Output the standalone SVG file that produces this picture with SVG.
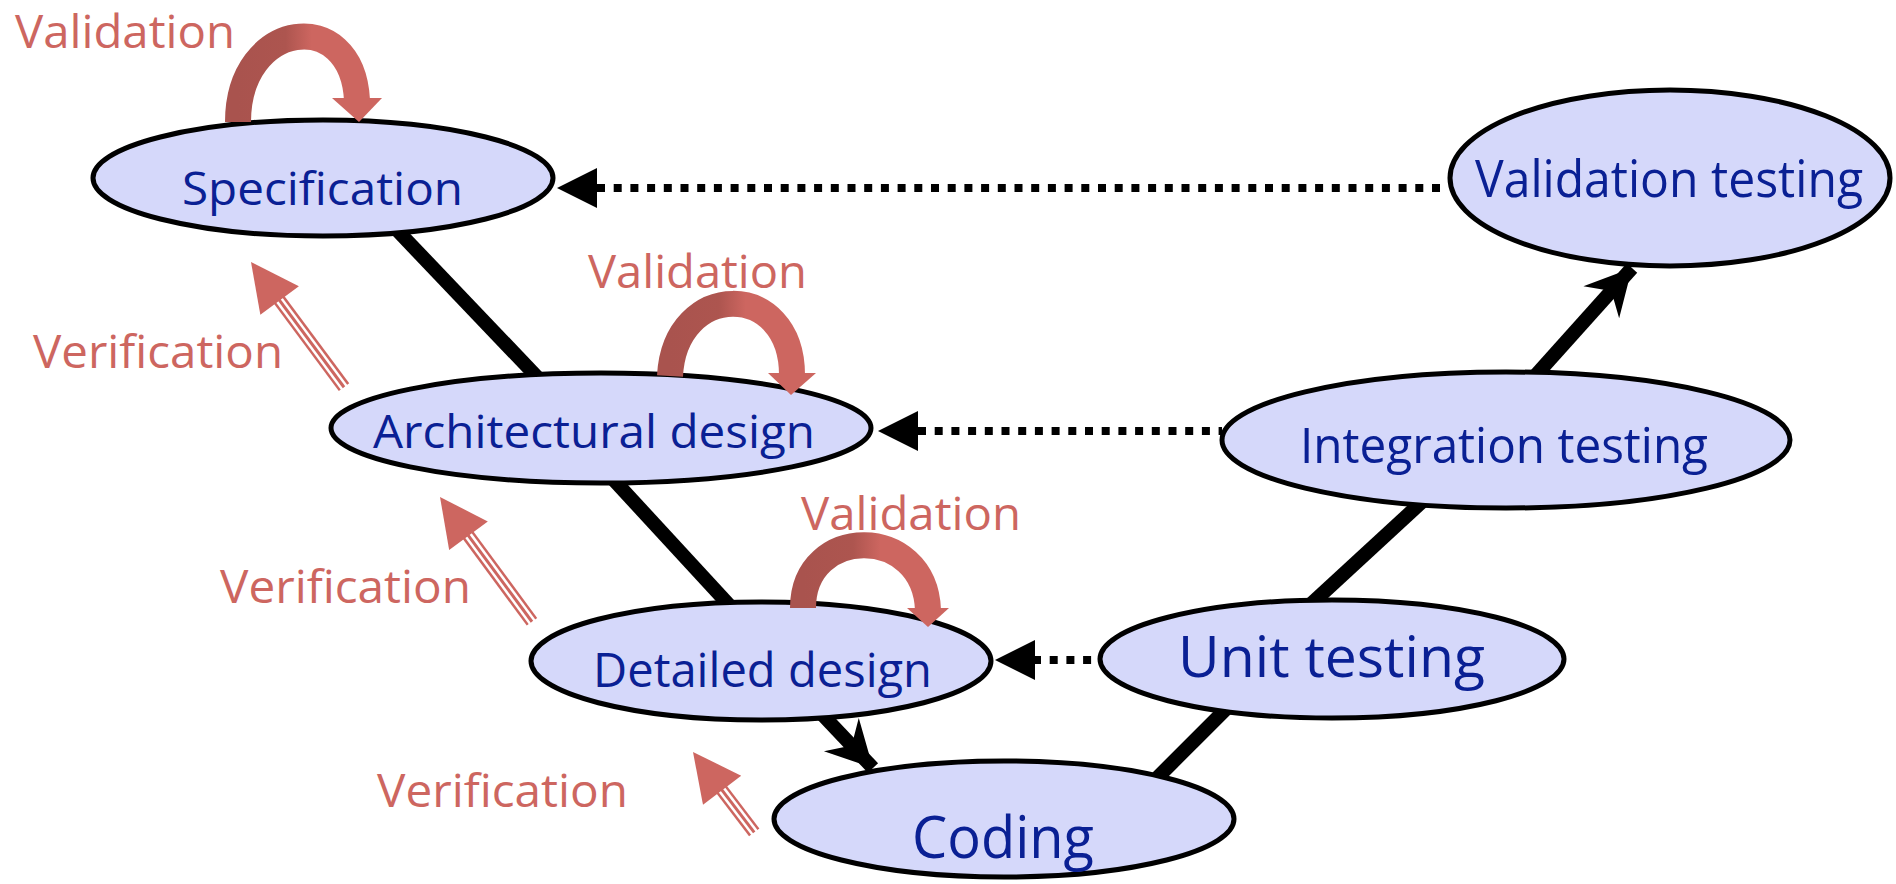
<svg xmlns="http://www.w3.org/2000/svg" width="1896" height="884" viewBox="0 0 1896 884">
<style>
.node{fill:#D5D8FA;stroke:#000;stroke-width:5}
.nt{font-family:"Open Sans","Liberation Sans",sans-serif;fill:#0A2094}
.rt{font-family:"Open Sans","Liberation Sans",sans-serif;fill:#CD6660;font-size:46px}
.solid{stroke:#000;stroke-width:14;fill:none}
.dot{stroke:#000;stroke-width:8;fill:none;stroke-dasharray:8 8.7}
.arc{fill:none;stroke-width:26}
.vred{stroke:#CD6660;fill:none;stroke-width:13}
.vwhite{stroke:#fff;fill:none;stroke-width:8}
.vmid{stroke:#CD6660;fill:none;stroke-width:3}
</style>
<defs>
<marker id="stealth" markerUnits="userSpaceOnUse" markerWidth="60" markerHeight="60" viewBox="-50 -30 60 60" refX="0" refY="0" orient="auto">
<path d="M0,0 L-46,-24 L-31,0 L-46,24 Z" fill="#000"/>
</marker>
<polygon id="tri" points="0,0 40,-20 40,20" fill="#000"/>
<polygon id="vhead" points="0,0 48,-24 48,24" fill="#CD6660"/>
<linearGradient id="arcg" x1="0" y1="0" x2="1" y2="0">
<stop offset="0" stop-color="#A9534E"/>
<stop offset="0.4" stop-color="#AD554F"/>
<stop offset="0.62" stop-color="#CD6660"/>
<stop offset="1" stop-color="#CD6660"/>
</linearGradient>
</defs>

<g id="connectors">
<line class="solid" x1="395" y1="228" x2="540" y2="380"/>
<line class="solid" x1="612" y1="478" x2="730" y2="606"/>
<line class="solid" x1="818" y1="710" x2="873" y2="768" marker-end="url(#stealth)"/>
<line class="solid" x1="1150" y1="785" x2="1230" y2="705"/>
<line class="solid" x1="1310" y1="605" x2="1425" y2="499"/>
<line class="solid" x1="1536" y1="375" x2="1632" y2="268" marker-end="url(#stealth)"/>
<line class="dot" x1="597" y1="188" x2="1448" y2="188"/>
<use href="#tri" x="557" y="188"/>
<line class="dot" x1="918" y1="431" x2="1222" y2="431"/>
<use href="#tri" x="878" y="431"/>
<line class="dot" x1="1033" y1="660" x2="1100" y2="660"/>
<use href="#tri" x="995" y="660"/>
</g>

<g id="specification">
<ellipse class="node" cx="323" cy="178" rx="230" ry="58"/>
<text class="nt" x="182" y="205" font-size="46" textLength="281" lengthAdjust="spacingAndGlyphs">Specification</text>
</g>
<g id="architectural-design">
<ellipse class="node" cx="601" cy="428" rx="270" ry="55"/>
<text class="nt" x="373" y="448" font-size="46" textLength="442" lengthAdjust="spacingAndGlyphs">Architectural design</text>
</g>
<g id="detailed-design">
<ellipse class="node" cx="761" cy="661" rx="230" ry="59"/>
<text class="nt" x="593" y="687" font-size="47" textLength="339" lengthAdjust="spacingAndGlyphs">Detailed design</text>
</g>
<g id="coding">
<ellipse class="node" cx="1004" cy="819" rx="230" ry="58"/>
<text class="nt" x="912" y="858" font-size="59" textLength="182" lengthAdjust="spacingAndGlyphs">Coding</text>
</g>
<g id="unit-testing">
<ellipse class="node" cx="1332" cy="659" rx="232" ry="59"/>
<text class="nt" x="1178" y="677" font-size="56" textLength="307" lengthAdjust="spacingAndGlyphs">Unit testing</text>
</g>
<g id="integration-testing">
<ellipse class="node" cx="1506" cy="440" rx="284" ry="68"/>
<text class="nt" x="1300" y="463" font-size="49" textLength="408" lengthAdjust="spacingAndGlyphs">Integration testing</text>
</g>
<g id="validation-testing">
<ellipse class="node" cx="1670" cy="178" rx="220" ry="88"/>
<text class="nt" x="1475" y="197" font-size="52" textLength="388" lengthAdjust="spacingAndGlyphs">Validation testing</text>
</g>

<g id="validation-loops">
<path class="arc" stroke="url(#arcg)" d="M238,122 C238,20 352,5 357,100"/>
<polygon points="332,98 382,98 359,122" fill="#CD6660"/>
<path class="arc" stroke="url(#arcg)" d="M670,376 C675,280 792,280 792,375"/>
<polygon points="768,373 816,373 791,395" fill="#CD6660"/>
<path class="arc" stroke="url(#arcg)" d="M803,608 C803,524 925,524 928,610"/>
<polygon points="907,608 949,608 928,627" fill="#CD6660"/>
<text class="rt" x="15" y="48" textLength="220" lengthAdjust="spacingAndGlyphs">Validation</text>
<text class="rt" x="588" y="288" textLength="219" lengthAdjust="spacingAndGlyphs">Validation</text>
<text class="rt" x="801" y="530" textLength="220" lengthAdjust="spacingAndGlyphs">Validation</text>
</g>

<g id="verification-arrows">
<g transform="translate(251,262) rotate(53.4)">
<line class="vred" x1="46" y1="0" x2="156" y2="0"/>
<line class="vwhite" x1="44" y1="0" x2="158" y2="0"/>
<line class="vmid" x1="46" y1="0" x2="156" y2="0"/>
<use href="#vhead"/>
</g>
<g transform="translate(440,497) rotate(53.6)">
<line class="vred" x1="46" y1="0" x2="155" y2="0"/>
<line class="vwhite" x1="44" y1="0" x2="157" y2="0"/>
<line class="vmid" x1="46" y1="0" x2="155" y2="0"/>
<use href="#vhead"/>
</g>
<g transform="translate(693,752) rotate(52.7)">
<line class="vred" x1="46" y1="0" x2="101" y2="0"/>
<line class="vwhite" x1="44" y1="0" x2="103" y2="0"/>
<line class="vmid" x1="46" y1="0" x2="101" y2="0"/>
<use href="#vhead"/>
</g>
<text class="rt" x="33" y="368" textLength="250" lengthAdjust="spacingAndGlyphs">Verification</text>
<text class="rt" x="220" y="603" textLength="251" lengthAdjust="spacingAndGlyphs">Verification</text>
<text class="rt" x="377" y="807" textLength="251" lengthAdjust="spacingAndGlyphs">Verification</text>
</g>
</svg>
